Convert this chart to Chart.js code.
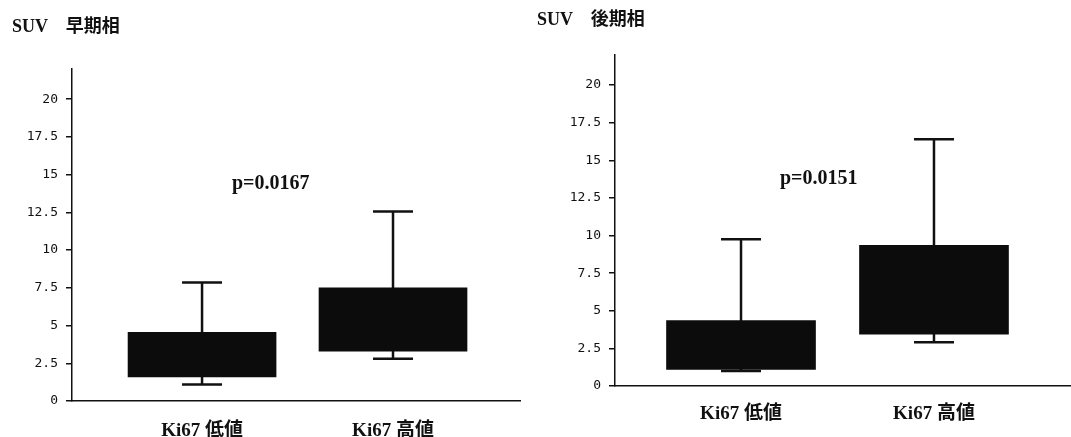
<!DOCTYPE html>
<html>
<head>
<meta charset="utf-8">
<script src="https://cdn.jsdelivr.net/npm/chart.js@4.4.1/dist/chart.umd.min.js"></script>
<style>
  body { margin: 0; background: #fff; width: 1071px; height: 437px; overflow: hidden; position: relative; }
  .panel { position: absolute; top: 0; height: 437px; }
  .txt { position: absolute; font-family: 'Liberation Serif', 'Noto Sans CJK JP', serif; font-weight: bold; color: #111; white-space: nowrap; line-height: 20px; }
</style>
</head>
<body>
<div class="panel" style="left:0;width:535px"><canvas id="early"></canvas></div>
<div class="panel" style="left:535px;width:536px"><canvas id="late"></canvas></div>
<div class="txt" style="left:12px;top:16px;font-size:18px">SUV　早期相</div>
<div class="txt" style="left:537px;top:9px;font-size:18px">SUV　後期相</div>
<div class="txt" style="left:232px;top:172px;font-size:20px">p=0.0167</div>
<div class="txt" style="left:780px;top:167px;font-size:20px">p=0.0151</div>
<script>
// ===== DATA =====
const categories = ["Ki67 低値", "Ki67 高値"];
const yTicks = [0, 2.5, 5, 7.5, 10, 12.5, 15, 17.5, 20];
const yTickLabels = ["0", "2.5", "5", "7.5", "10", "12.5", "15", "17.5", "20"];

// SUV 早期相
const earlyQ1 = [1.6, 3.3];
const earlyQ3 = [4.55, 7.5];
const earlyMin = [1.1, 2.8];
const earlyMax = [7.85, 12.55];

// SUV 後期相
const lateQ1 = [1.1, 3.45];
const lateQ3 = [4.35, 9.35];
const lateMin = [1.0, 2.9];
const lateMax = [9.75, 16.4];

const INK = "#111";

// whiskers drawn behind the boxes, positioned through the chart scales
const whiskers = {
  id: "whiskers",
  beforeDatasetsDraw(chart, args, opts) {
    const ctx = chart.ctx;
    const y = chart.scales.y;
    const meta = chart.getDatasetMeta(0);
    ctx.save();
    ctx.strokeStyle = INK;
    ctx.lineWidth = 2.5;
    meta.data.forEach((bar, i) => {
      const top = y.getPixelForValue(opts.hi[i]);
      const bot = y.getPixelForValue(opts.lo[i]);
      const half = opts.cap / 2;
      ctx.beginPath();
      ctx.moveTo(bar.x, top);
      ctx.lineTo(bar.x, bot);
      ctx.moveTo(bar.x - half, top);
      ctx.lineTo(bar.x + half, top);
      ctx.moveTo(bar.x - half, bot);
      ctx.lineTo(bar.x + half, bot);
      ctx.stroke();
    });
    ctx.restore();
  },
};

function makeBox(id, q1, q3, lo, hi, cfg) {
  return new Chart(document.getElementById(id), {
    type: "bar",
    data: {
      datasets: [
        {
          data: categories.map((c, i) => ({ x: i + 1, y: [q1[i], q3[i]] })),
          backgroundColor: "#0c0c0c",
          borderWidth: 0,
          barThickness: cfg.barW,
        },
      ],
    },
    options: {
      responsive: true,
      maintainAspectRatio: false,
      animation: false,
      layout: { padding: cfg.pad },
      plugins: {
        legend: { display: false },
        tooltip: { enabled: false },
        whiskers: { lo, hi, cap: 40 },
      },
      scales: {
        x: {
          type: "linear",
          offset: false,
          min: cfg.xMin,
          max: cfg.xMax,
          afterBuildTicks: (s) => { s.ticks = categories.map((c, i) => ({ value: i + 1 })); },
          afterFit: (s) => { s.height = cfg.xH; },
          ticks: {
            callback: (v, i) => categories[i],
            font: { family: "'Liberation Serif', 'Noto Sans CJK JP', serif", size: 19, weight: "bold" },
            color: INK,
            padding: cfg.labPad,
            maxRotation: 0,
            autoSkip: false,
          },
          grid: { display: false, drawTicks: false, offset: false },
          border: { color: INK, width: 1.5 },
        },
        y: {
          min: 0,
          max: 22,
          afterBuildTicks: (s) => { s.ticks = yTicks.map((v) => ({ value: v })); },
          afterFit: (s) => { s.width = cfg.yW; },
          ticks: {
            callback: (v, i) => yTickLabels[i],
            font: { family: "'DejaVu Sans Mono', monospace", size: 13 },
            color: INK,
            padding: 8,
          },
          grid: { drawOnChartArea: false, drawTicks: true, tickLength: 6, color: INK, lineWidth: 1.5 },
          border: { color: INK, width: 1.5 },
        },
      },
    },
    plugins: [whiskers],
  });
}

makeBox("early", earlyQ1, earlyQ3, earlyMin, earlyMax, {
  pad: { top: 69, right: 15, left: 0, bottom: 0 },
  yW: 72, xH: 36, xMin: 0.319, xMax: 2.665, barW: 148, labPad: 19,
});

makeBox("late", lateQ1, lateQ3, lateMin, lateMax, {
  pad: { top: 55, right: 0, left: 0, bottom: 0 },
  yW: 80, xH: 51, xMin: 0.347, xMax: 2.71, barW: 149, labPad: 17,
});
</script>
</body>
</html>
